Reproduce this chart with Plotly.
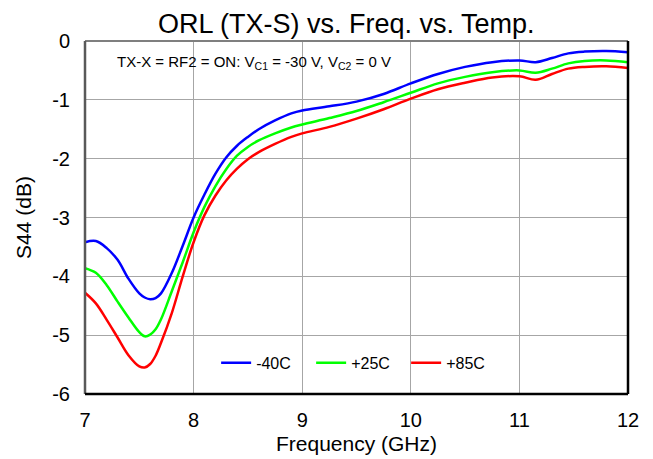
import plotly.graph_objects as go

freq = [7.0, 7.1, 7.2, 7.3, 7.4, 7.5, 7.55, 7.6, 7.65, 7.7, 7.8, 7.9, 8.0, 8.1, 8.2, 8.3,
        8.4, 8.5, 8.6, 8.75, 8.9, 9.0, 9.25, 9.5, 9.75, 10.0, 10.25, 10.5, 10.75, 11.0, 11.15,
        11.3, 11.45, 11.6, 11.8, 12.0]

s44_m40 = [-3.42, -3.40, -3.52, -3.72, -4.04, -4.29, -4.36, -4.39, -4.37, -4.29, -3.94, -3.48,
           -3.00, -2.61, -2.26, -1.98, -1.78, -1.63, -1.50, -1.35, -1.23, -1.18, -1.11, -1.03,
           -0.90, -0.72, -0.56, -0.44, -0.36, -0.33, -0.36, -0.29, -0.21, -0.18, -0.17, -0.19]

s44_p25 = [-3.86, -3.94, -4.15, -4.43, -4.70, -4.95, -5.02, -4.99, -4.90, -4.73, -4.25, -3.76,
           -3.25, -2.82, -2.47, -2.18, -1.95, -1.80, -1.69, -1.57, -1.47, -1.42, -1.31, -1.19,
           -1.04, -0.88, -0.72, -0.61, -0.53, -0.50, -0.54, -0.47, -0.38, -0.34, -0.33, -0.36]

s44_p85 = [-4.28, -4.46, -4.74, -5.04, -5.34, -5.53, -5.55, -5.49, -5.35, -5.13, -4.62, -4.00,
           -3.42, -2.96, -2.63, -2.37, -2.17, -2.01, -1.89, -1.75, -1.63, -1.57, -1.46, -1.32,
           -1.16, -0.98, -0.82, -0.71, -0.62, -0.60, -0.66, -0.56, -0.47, -0.44, -0.43, -0.46]

series_names = ["-40C", "+25C", "+85C"]
series_colors = ["#0000FF", "#00FF00", "#FF0000"]

x_ticks = [7, 8, 9, 10, 11, 12]
y_ticks = [0, -1, -2, -3, -4, -5, -6]

FONT = "Arial, Liberation Sans, sans-serif"

fig = go.Figure()
for name, color, vals in zip(series_names, series_colors, [s44_m40, s44_p25, s44_p85]):
    fig.add_trace(go.Scatter(x=freq, y=vals, mode="lines", name=name,
                             line=dict(color=color, width=2.5, shape="spline", smoothing=1.0)))

# page body has an 8px margin, so figure coordinates are shifted by 8px
fig.update_layout(
    width=653, height=459,
    margin=dict(l=77, r=33, t=33, b=73, autoexpand=False),
    paper_bgcolor="white", plot_bgcolor="white",
    font=dict(family=FONT, color="black"),
    title=dict(text="ORL (TX-S) vs. Freq. vs. Temp.", x=0.518, xanchor="center",
               y=0.966, yanchor="middle", font=dict(size=27, color="black")),
    showlegend=True,
    legend=dict(orientation="h", x=0.2415, xanchor="left", y=0.088, yanchor="middle",
                bgcolor="rgba(0,0,0,0)", font=dict(size=16),
                entrywidth=50, entrywidthmode="pixels", itemwidth=30),
    xaxis=dict(range=[7, 12], tickvals=x_ticks, ticktext=[str(v) for v in x_ticks],
               showgrid=True, gridcolor="#A6A6A6", gridwidth=1, zeroline=False,
               showline=False, ticks="", tickfont=dict(size=20), ticklabelstandoff=12,
               automargin=False,
               title=dict(text="Frequency (GHz)", font=dict(size=21), standoff=6)),
    yaxis=dict(range=[-6, 0], tickvals=y_ticks, ticktext=[str(v) for v in y_ticks],
               showgrid=True, gridcolor="#A6A6A6", gridwidth=1, zeroline=False,
               showline=False, ticks="", tickfont=dict(size=20), ticklabelstandoff=14,
               automargin=False,
               title=dict(text="S44 (dB)", font=dict(size=21), standoff=14)),
)

# plot frame
fig.add_shape(type="line", xref="paper", yref="paper", x0=0, x1=1, y0=1, y1=1,
              line=dict(color="#7F7F7F", width=2))
fig.add_shape(type="line", xref="paper", yref="paper", x0=0, x1=0, y0=0, y1=1,
              line=dict(color="#595959", width=2.5))
fig.add_shape(type="line", xref="paper", yref="paper", x0=1, x1=1, y0=0, y1=1,
              line=dict(color="black", width=2.5))
fig.add_shape(type="line", xref="paper", yref="paper", x0=0, x1=1, y0=0, y1=0,
              line=dict(color="black", width=2.5))

fig.add_annotation(text="TX-X = RF2 = ON: V<sub>C1</sub> = -30 V, V<sub>C2</sub> = 0 V",
                   xref="paper", yref="paper", x=0.055, y=0.94, xanchor="left", yanchor="middle",
                   showarrow=False, font=dict(size=15, color="black"))

fig.write_html("out.html")
